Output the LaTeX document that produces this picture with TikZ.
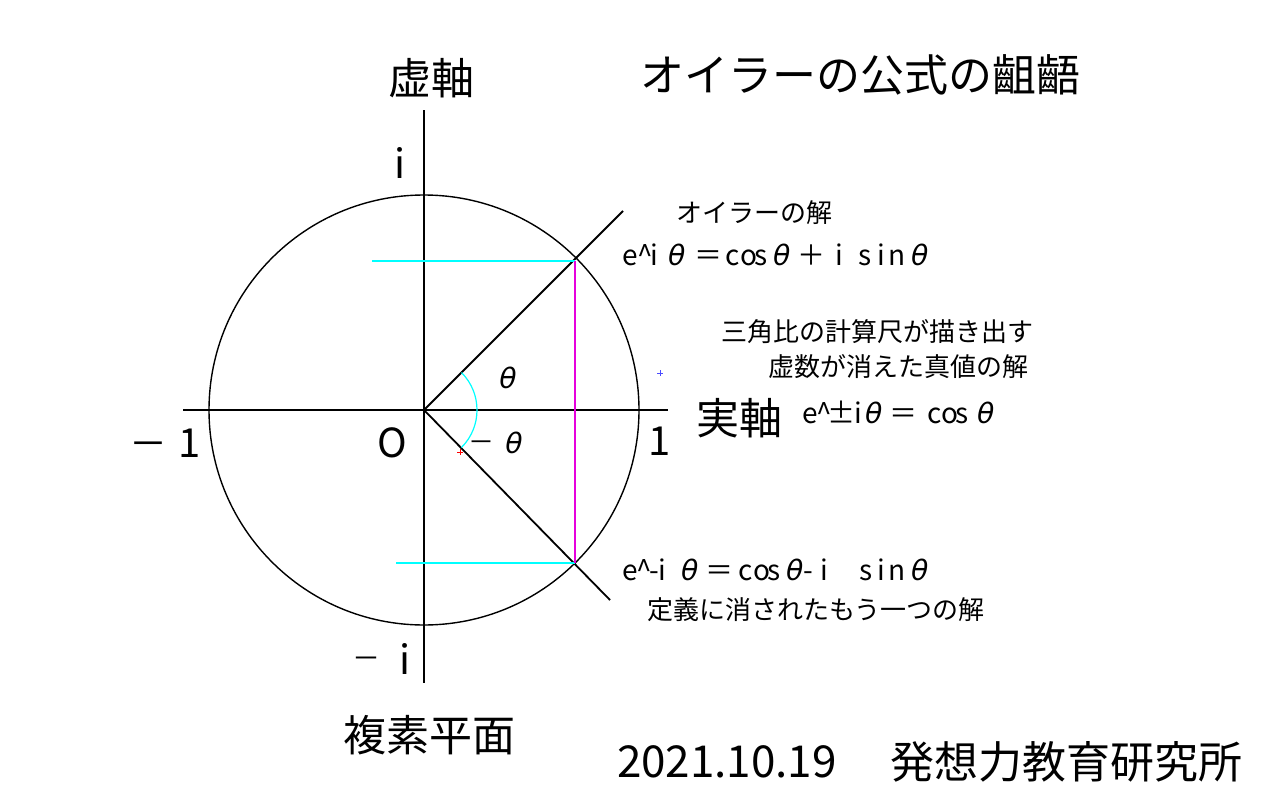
\documentclass[tikz,border=0pt]{standalone}
\usepackage{fontspec}
\setmainfont{Noto Sans CJK JP}
\newfontfamily\thfont[FakeSlant=0.2]{DejaVu Sans}
\newcommand{\tht}{{\thfont θ}}
\newcommand{\fs}[1]{\fontsize{#1}{#1}\selectfont}
\newcommand{\pc}[2]{\rlap{\hspace*{#1pt}#2}}
\definecolor{cy}{RGB}{0,255,255}
\definecolor{mg}{RGB}{230,0,220}
\begin{document}
\begin{tikzpicture}[x=1pt,y=-1pt,
  axis/.style={line width=1.8pt,black},
  circ/.style={line width=1.4pt,black},
  guide/.style={line width=1.2pt,cy},
  chord/.style={line width=2.4pt,mg},
  lbl/.style={inner sep=0pt,outer sep=0pt},
  small/.style={lbl,anchor=west,font=\fs{26}},
  formula/.style={lbl,anchor=base west,font=\fs{28}},
  big/.style={lbl,font=\fs{43}},
  num/.style={lbl,font=\fs{40}}]
\useasboundingbox[fill=white] (0,0) rectangle (1280,800);
% coordinates
\coordinate (O) at (424,410);
\coordinate (xl) at (183,410);
\coordinate (xr) at (668,410);
\coordinate (yt) at (424,110);
\coordinate (yb) at (424,683);
\coordinate (P) at (575,261);
\coordinate (Q) at (575,563);
\coordinate (Pe) at (623,211);
\coordinate (Qe) at (610,600);
\coordinate (Pc) at (372,261);
\coordinate (Qc) at (396,563);
% circle
\draw[circ] (O) circle[radius=215];
% axes
\draw[axis] (xl) -- (xr);
\draw[axis] (yt) -- (yb);
% rays
\draw[axis] (O) -- (Pe);
\draw[axis] (O) -- (Qe);
% cyan guides
\draw[guide] (Pc) -- (P);
\draw[guide] (Qc) -- (Q);
% magenta chord
\draw[chord] (P) -- (Q);
% arc
\draw[guide] ([shift={(45:53)}]O) arc[start angle=45,end angle=-45,radius=53];
% tiny marks
\draw[red,line width=0.8pt] (457,452) -- (463,452) (460,449) -- (460,455);
\draw[blue!70,line width=0.8pt] (657,373) -- (663,373) (660,370) -- (660,376);
% labels
\node[lbl,font=\fs{44}] (title) at (860,75) {オイラーの公式の齟齬};
\node[big] (im) at (431,78) {虚軸};
\node[big] (re) at (739,418) {実軸};
\node[big] (cp) at (429,735) {複素平面};
\node[num] (i) at (400,163) {i};
\node[lbl,anchor=base,font=\fs{28}] (mi1) at (366,668) {－};
\node[num] (mi2) at (405,659) {i};
\node[lbl,anchor=base,font=\fs{38}] (m1a) at (148,457) {－};
\node[num] (m1b) at (190,443) {1};
\node[num] (o) at (392,443) {O};
\node[num] (one) at (660,441) {1};
\node[lbl,font=\fs{28}] (th1) at (506,378) {\tht};
\node[lbl,anchor=base,font=\fs{26}] (th2a) at (481,451) {－};
\node[lbl,font=\fs{28}] (th2b) at (512,443) {\tht};
\node[small] (eu) at (676,213) {オイラーの解};
\node[formula] (f1) at (619,265) {\pc{3}{e}\pc{19}{\textasciicircum}\pc{31}{i}\pc{47}{\tht}\pc{75}{＝}\pc{107}{c}\pc{121}{o}\pc{135}{s}\pc{152}{\tht}\pc{178}{＋}\pc{216}{i}\pc{240}{s}\pc{259}{i}\pc{270}{n}\pc{290}{\tht}\hspace*{304pt}};
\node[small] (t1) at (721,332) {三角比の計算尺が描き出す};
\node[small] (t2) at (768,367) {虚数が消えた真値の解};
\node[formula] (f2) at (800,423) {\pc{2}{e}\pc{16}{\textasciicircum}\pc{27}{±}\pc{54}{i}\pc{63}{\tht}\pc{89}{＝}\pc{127}{c}\pc{141}{o}\pc{155}{s}\pc{175}{\tht}\hspace*{192pt}};
\node[formula] (f3) at (619,580) {\pc{3}{e}\pc{17}{\textasciicircum}\pc{30}{-}\pc{40}{i}\pc{60}{\tht}\pc{86}{＝}\pc{120}{c}\pc{134}{o}\pc{148}{s}\pc{165}{\tht}\pc{184}{-}\pc{201}{i}\pc{240}{s}\pc{259}{i}\pc{270}{n}\pc{290}{\tht}\hspace*{304pt}};
\node[small] (t3) at (647,610) {定義に消されたもう一つの解};
\node[lbl,anchor=west,font=\fs{44}] (date) at (617,762) {2021.10.19};
\node[lbl,anchor=west,font=\fs{44}] (org) at (890,762) {発想力教育研究所};
\end{tikzpicture}
\end{document}
